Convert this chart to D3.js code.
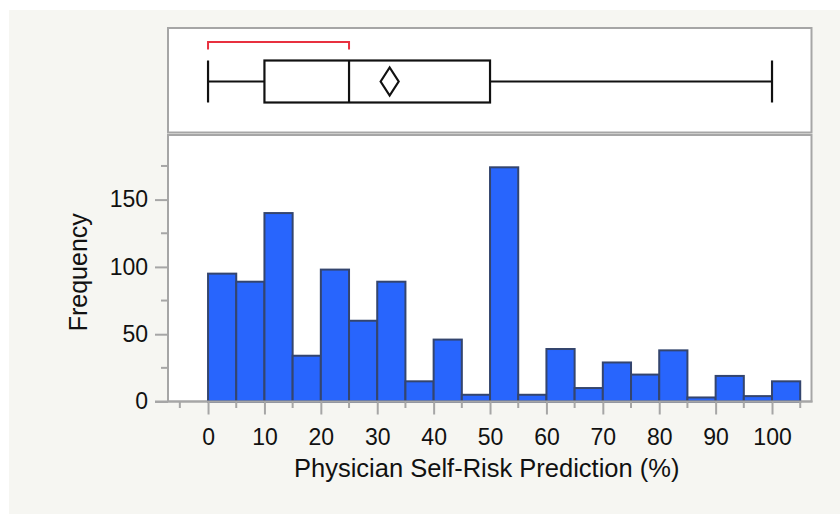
<!DOCTYPE html>
<html>
<head>
<meta charset="utf-8">
<script src="https://cdn.jsdelivr.net/npm/d3@7"></script>
<style>
  body { margin: 0; background: #ffffff; }
  svg text { font-family: "Liberation Sans", Arial, Helvetica, sans-serif; fill: #111; }
</style>
</head>
<body>
<div id="chart"></div>
<script>
// Histogram + outlier box plot of physician self-risk predictions.

// bins are 5 wide, starting at 0
var binStarts = [0, 5, 10, 15, 20, 25, 30, 35, 40, 45, 50, 55, 60, 65, 70, 75, 80, 85, 90, 95, 100];
var binCounts = [95, 89, 140, 34, 98, 60, 89, 15, 46, 5, 174, 5, 39, 10, 29, 20, 38, 3, 19, 4, 15];
var binWidth = 5;

var xTickLabels = [0, 10, 20, 30, 40, 50, 60, 70, 80, 90, 100];
var yTickLabels = [0, 50, 100, 150];

// box plot summary
var boxMin = 0, boxQ1 = 10, boxMedian = 25, boxQ3 = 50, boxMax = 100;
var meanValue = 32.2, meanHalfCI = 1.6;
var shortestHalf = [0, 25];

var xTitle = "Physician Self-Risk Prediction (%)";
var yTitle = "Frequency";

var W = 840, H = 514;
var svg = d3.select("#chart").append("svg")
    .attr("width", W)
    .attr("height", H);

// off-white report background
svg.append("rect")
    .attr("x", 9).attr("y", 10)
    .attr("width", W - 9).attr("height", H - 10)
    .attr("fill", "#f6f6f2");

var plotLeft = 168, plotRight = 811.5;
var boxTop = 28, boxBottom = 132.5;
var histTop = 135, histBottom = 401.5;

var x = d3.scaleLinear().domain([-7.1, 107]).range([plotLeft, plotRight]);
var y = d3.scaleLinear().domain([0, 198]).range([histBottom, histTop]);

// panels
svg.append("rect")
    .attr("x", plotLeft).attr("y", boxTop)
    .attr("width", plotRight - plotLeft).attr("height", boxBottom - boxTop)
    .attr("fill", "#fff").attr("stroke", "#a6a6a6").attr("stroke-width", 2);
svg.append("rect")
    .attr("x", plotLeft).attr("y", histTop)
    .attr("width", plotRight - plotLeft).attr("height", histBottom - histTop)
    .attr("fill", "#fff").attr("stroke", "#a6a6a6").attr("stroke-width", 2);

// ---- box plot ----
var bp = svg.append("g");
var cy = 81.5, halfH = 21;

bp.append("line")
    .attr("x1", x(boxMin)).attr("x2", x(boxQ1))
    .attr("y1", cy).attr("y2", cy)
    .attr("stroke", "#111").attr("stroke-width", 2);
bp.append("line")
    .attr("x1", x(boxQ3)).attr("x2", x(boxMax))
    .attr("y1", cy).attr("y2", cy)
    .attr("stroke", "#111").attr("stroke-width", 2);
[boxMin, boxMax].forEach(function(v) {
  bp.append("line")
      .attr("x1", x(v)).attr("x2", x(v))
      .attr("y1", cy - halfH).attr("y2", cy + halfH)
      .attr("stroke", "#111").attr("stroke-width", 2.2);
});
bp.append("rect")
    .attr("x", x(boxQ1)).attr("y", cy - halfH)
    .attr("width", x(boxQ3) - x(boxQ1)).attr("height", halfH * 2)
    .attr("fill", "none").attr("stroke", "#111").attr("stroke-width", 2.2);
bp.append("line")
    .attr("x1", x(boxMedian)).attr("x2", x(boxMedian))
    .attr("y1", cy - halfH).attr("y2", cy + halfH)
    .attr("stroke", "#111").attr("stroke-width", 2.2);

// mean diamond
var dl = x(meanValue - meanHalfCI), dr = x(meanValue + meanHalfCI), dm = x(meanValue);
bp.append("path")
    .attr("d", "M" + dl + "," + cy + "L" + dm + "," + (cy - 14) + "L" + dr + "," + cy + "L" + dm + "," + (cy + 14) + "Z")
    .attr("fill", "none").attr("stroke", "#111").attr("stroke-width", 2.2);

// shortest half bracket
bp.append("path")
    .attr("d", "M" + x(shortestHalf[0]) + ",49.5V42H" + x(shortestHalf[1]) + "V49.5")
    .attr("fill", "none").attr("stroke", "#e8303f").attr("stroke-width", 2);

// ---- histogram ----
svg.append("g").selectAll("rect")
    .data(binStarts)
    .join("rect")
    .attr("x", function(d) { return x(d); })
    .attr("y", function(d, i) { return y(binCounts[i]); })
    .attr("width", function(d) { return x(d + binWidth) - x(d); })
    .attr("height", function(d, i) { return y(0) - y(binCounts[i]); })
    .attr("fill", "#2865fd")
    .attr("stroke", "#34456e")
    .attr("stroke-width", 2);

// redraw the frame bottom on top of the bars
svg.append("line")
    .attr("x1", plotLeft - 13).attr("x2", plotRight + 1)
    .attr("y1", histBottom).attr("y2", histBottom)
    .attr("stroke", "#a6a6a6").attr("stroke-width", 2);

// x axis
var xAxis = d3.axisBottom(x)
    .tickValues(xTickLabels)
    .tickSize(13)
    .tickSizeOuter(0)
    .tickPadding(14);
var gx = svg.append("g")
    .attr("transform", "translate(0," + histBottom + ")")
    .call(xAxis);
gx.select(".domain").remove();
gx.selectAll(".tick line").attr("stroke", "#a6a6a6").attr("stroke-width", 2);
gx.selectAll(".tick text").attr("font-size", 23).style("font-family", "Liberation Sans, Arial, sans-serif").attr("fill", "#111");

var xMinor = d3.range(-5, 106, 10);
svg.append("g").selectAll("line")
    .data(xMinor)
    .join("line")
    .attr("x1", function(d) { return x(d); })
    .attr("x2", function(d) { return x(d); })
    .attr("y1", histBottom).attr("y2", histBottom + 6.5)
    .attr("stroke", "#a6a6a6").attr("stroke-width", 2);

// y axis
var yAxis = d3.axisLeft(y)
    .tickValues(yTickLabels)
    .tickSize(13)
    .tickSizeOuter(0)
    .tickPadding(7);
var gy = svg.append("g")
    .attr("transform", "translate(" + plotLeft + ",0)")
    .call(yAxis);
gy.select(".domain").remove();
gy.selectAll(".tick line").attr("stroke", "#a6a6a6").attr("stroke-width", 2);
gy.selectAll(".tick text").attr("font-size", 23).style("font-family", "Liberation Sans, Arial, sans-serif").attr("fill", "#111");

var yMinor = [25, 75, 125, 175];
svg.append("g").selectAll("line")
    .data(yMinor)
    .join("line")
    .attr("x1", plotLeft - 7).attr("x2", plotLeft)
    .attr("y1", function(d) { return y(d); })
    .attr("y2", function(d) { return y(d); })
    .attr("stroke", "#a6a6a6").attr("stroke-width", 2);

// titles
svg.append("text")
    .attr("x", (plotLeft + plotRight) / 2 - 3)
    .attr("y", 477)
    .attr("text-anchor", "middle")
    .attr("font-size", 25.5)
    .text(xTitle);

svg.append("text")
    .attr("transform", "translate(87," + ((histTop + histBottom) / 2 + 4) + ") rotate(-90)")
    .attr("text-anchor", "middle")
    .attr("font-size", 25)
    .text(yTitle);
</script>
</body>
</html>
